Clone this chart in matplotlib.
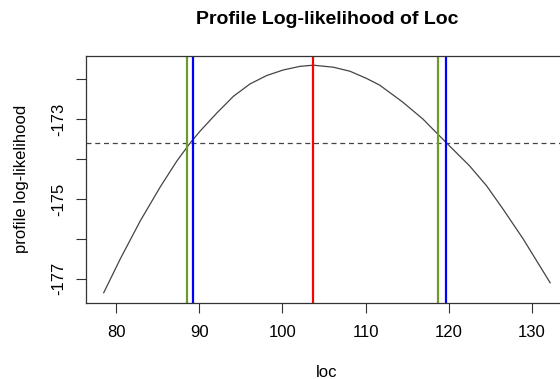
import matplotlib
matplotlib.use("Agg")
from matplotlib import pyplot as plt

# profile log-likelihood curve
loc = [78.5, 80.5, 82.9, 85.3, 87.3, 88.9, 90.1, 92.1, 94.1, 96.1, 98.1, 100.1, 102.1,
       103.7, 106.1, 108.1, 110.1, 111.7, 114.5, 116.9, 119.7, 122.5, 124.55, 126.55,
       128.95, 132.2]
loglik = [-177.35, -176.5, -175.55, -174.7, -174.05, -173.6, -173.3, -172.85, -172.43,
          -172.12, -171.91, -171.77, -171.68, -171.65, -171.70, -171.80, -171.98, -172.15,
          -172.58, -173.0, -173.59, -174.17, -174.67, -175.26, -176.0, -177.1]

mle = 103.65
cutoff = -173.59
ci_green = [88.57, 118.74]
ci_blue = [89.3, 119.7]

yticks = [-177, -176, -175, -174, -173, -172]
ylabels = ["-177", "", "-175", "", "-173", ""]
xticks = [80, 90, 100, 110, 120, 130]

plt.rcParams["font.family"] = ["Liberation Sans", "DejaVu Sans"]

fig = plt.figure(figsize=(5.6, 3.79), dpi=100)
ax = fig.add_axes([86 / 560, 1 - 302.7 / 379, (568 - 86) / 560, (302.7 - 56) / 379])

ax.plot(loc, loglik, color="#444444", lw=0.9)
ax.axhline(cutoff, color="#444444", lw=0.9, ls=(0, (4, 3)))
for v in ci_green:
    ax.axvline(v, color="#6f9a2f", lw=1.6)
for v in ci_blue:
    ax.axvline(v, color="#0000ff", lw=1.6)
ax.axvline(mle, color="#ff0000", lw=1.6)

ax.set_xlim(76.37, 134.35)
ax.set_ylim(-177.6, -171.42)
ax.set_xticks(xticks)
ax.set_yticks(yticks)
ax.set_yticklabels(ylabels, rotation=90, va="center")
ax.tick_params(axis="both", length=7, width=0.8, color="#333333", labelsize=12)
ax.tick_params(axis="x", pad=9)
ax.tick_params(axis="y", pad=7)
for s in ax.spines.values():
    s.set_color("#333333")
    s.set_linewidth(0.9)

ax.set_xlabel("loc", fontsize=12, labelpad=18)
ax.set_ylabel("profile log-likelihood", fontsize=12, labelpad=16)
ax.set_title("Profile Log-likelihood of Loc", fontsize=14, fontweight="bold", pad=23)

fig.savefig("out.png", dpi=100)
